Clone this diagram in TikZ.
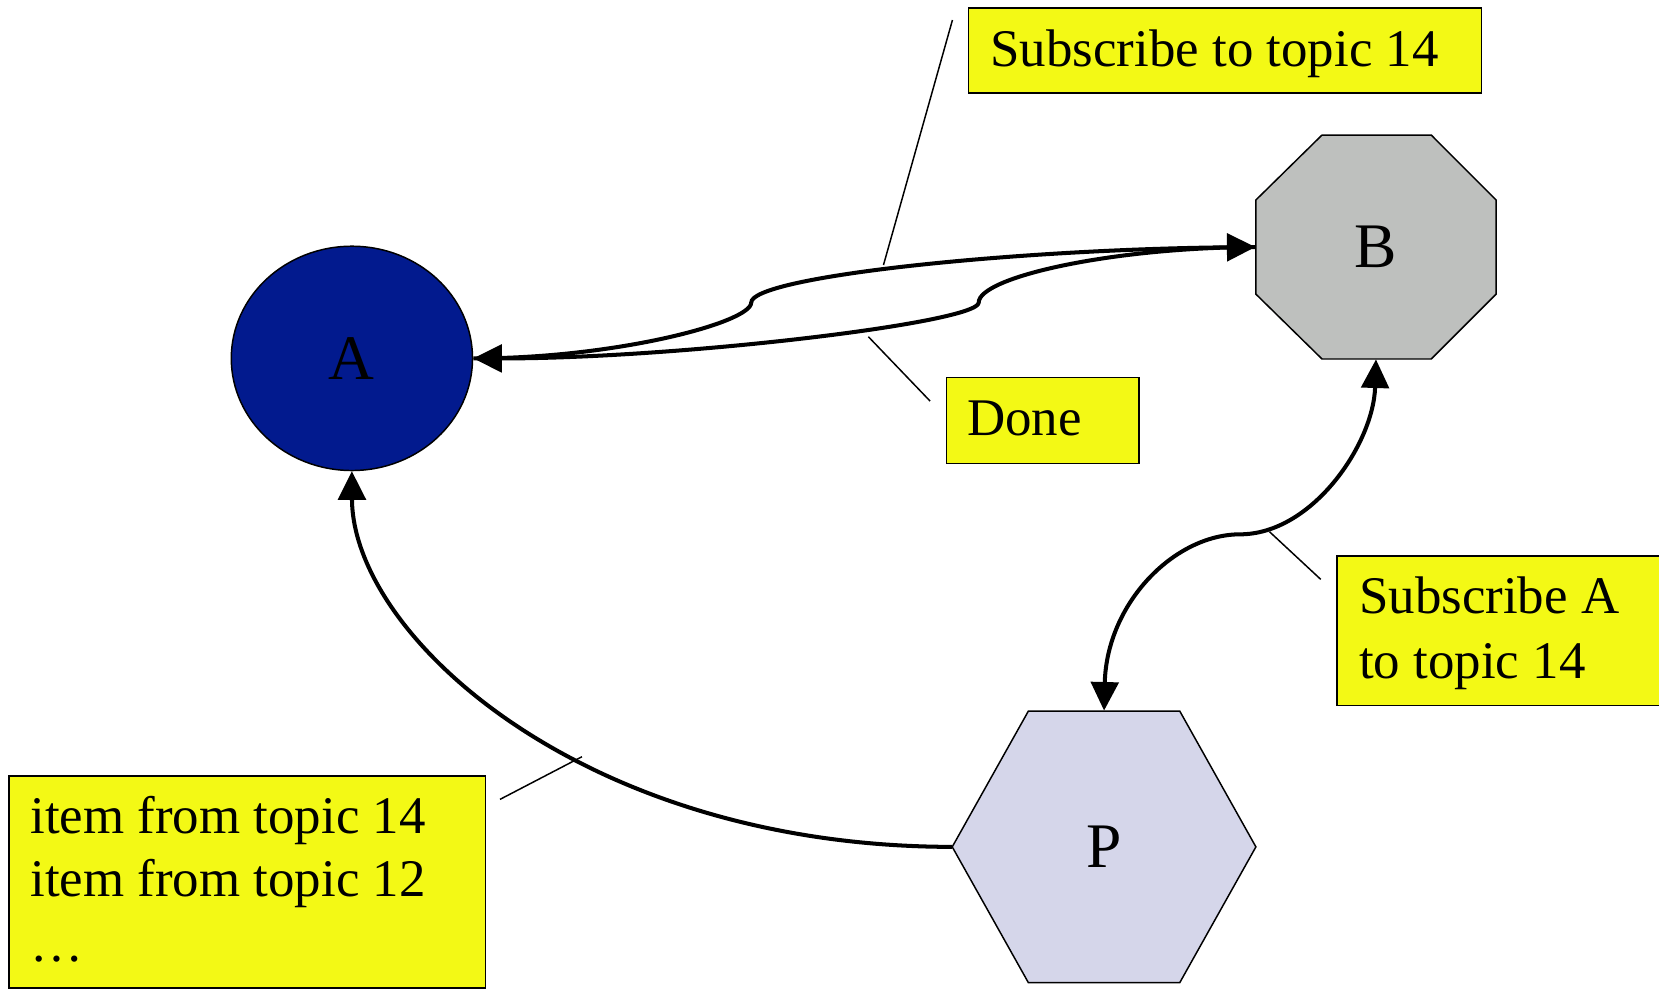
\documentclass[tikz,border=0pt]{standalone}
\usepackage{fontspec}
\setmainfont{Liberation Serif}
\usetikzlibrary{arrows.meta,shapes.geometric}
\definecolor{noteyellow}{RGB}{243,249,21}
\definecolor{nodeA}{RGB}{2,26,142}
\definecolor{nodeB}{RGB}{190,192,190}
\definecolor{nodeP}{RGB}{213,214,234}
\tikzset{
  >={Triangle[length=13.5pt,width=13pt]},
  edge/.style={line width=1.9pt,->},
  biedge/.style={line width=1.9pt,<->},
  leader/.style={line width=0.7pt},
  note/.style={draw, line width=0.7pt, fill=noteyellow, inner sep=0pt, anchor=north west},
  notetext/.style={anchor=base west, inner sep=0pt, font=\fontsize{25pt}{30pt}\selectfont},
  labelfont/.style={font=\fontsize{30pt}{36pt}\selectfont},
  shapebox/.style={draw=none, inner sep=0pt, labelfont},
  polyshape/.style={draw, line width=0.7pt, line join=miter},
}
\begin{document}
\begin{tikzpicture}[x=0.5pt,y=-0.5pt]
\useasboundingbox (0,0) rectangle (1568,934);
\clip (0,0) rectangle (1568,934);

% node A
\node[ellipse, draw, line width=0.7pt, fill=nodeA, inner sep=0pt,
      minimum width=114pt, minimum height=106pt, labelfont] (A) at (332.6,338.7) {A};

% node B (octagon)
\path[polyshape, fill=nodeB] (1249.5,127.6) -- (1352.7,127.6) -- (1414,189) -- (1414,278)
  -- (1352.7,339.3) -- (1249.5,339.3) -- (1187,278) -- (1187,189) -- cycle;
\node[shapebox, minimum width=113.5pt, minimum height=105.85pt] (B) at (1300.5,233.45) {B};

% node P (hexagon)
\path[polyshape, fill=nodeP] (972,672) -- (1115,672) -- (1187,800.4) -- (1115,928.8)
  -- (972,928.8) -- (900,800.4) -- cycle;
\node[shapebox, minimum width=143.5pt, minimum height=128.4pt] (P) at (1043.5,800.4) {P};

% kink coordinates
\coordinate (k1) at (710,286);
\coordinate (k2) at (925,286);
\coordinate (k3) at (1172,505);

% edges
\draw[edge] (A.east) .. controls (580,339) and (710,305) .. (k1)
  .. controls (710,262) and (950,236) .. (B.west);
\draw[edge] (B.west) .. controls (1050,234) and (925,262) .. (k2)
  .. controls (925,305) and (640,339) .. (A.east);
\draw[biedge] (B.south) .. controls (1298,420) and (1240,505) .. (k3)
  .. controls (1110,505) and (1046,570) .. (P.north);
\draw[edge] (P.west) .. controls (550,800) and (333,600) .. (A.south);

% leader lines
\coordinate (L1a) at (835,250.5);   \coordinate (L1b) at (900.2,18.9);
\coordinate (L2a) at (820.7,318.2); \coordinate (L2b) at (879,379);
\coordinate (L3a) at (1199.8,502.5); \coordinate (L3b) at (1248.3,547.6);
\coordinate (L4a) at (550,715.2);   \coordinate (L4b) at (472.6,755.5);
\draw[leader] (L1a) -- (L1b);
\draw[leader] (L2a) -- (L2b);
\draw[leader] (L3a) -- (L3b);
\draw[leader] (L4a) -- (L4b);

% note boxes
\node[note, minimum width=242.4pt, minimum height=40.2pt] (topbox) at (914.6,6.9) {};
\node[note, minimum width=91.05pt, minimum height=40.65pt] (donebox) at (893.8,356) {};
\node[note, minimum width=178.5pt, minimum height=70.85pt] (subbox) at (1263,524.6) {};
\node[note, minimum width=225.4pt, minimum height=100.25pt] (itembox) at (7.6,732.5) {};

% note texts
\node[notetext] (t1) at (935.8,62.4) {Subscribe to topic 14};
\node[notetext] (t2) at (913.7,412) {Done};
\node[notetext] (t3a) at (1284.3,579.7) {Subscribe A};
\node[notetext] (t3b) at (1284.3,641.1) {to topic 14};
\node[notetext] (t4a) at (28.4,787.6) {item from topic 14};
\node[notetext] (t4b) at (28.4,847.5) {item from topic 12};
\node[notetext] (t4c) at (28.4,909) {…};
\end{tikzpicture}
\end{document}
